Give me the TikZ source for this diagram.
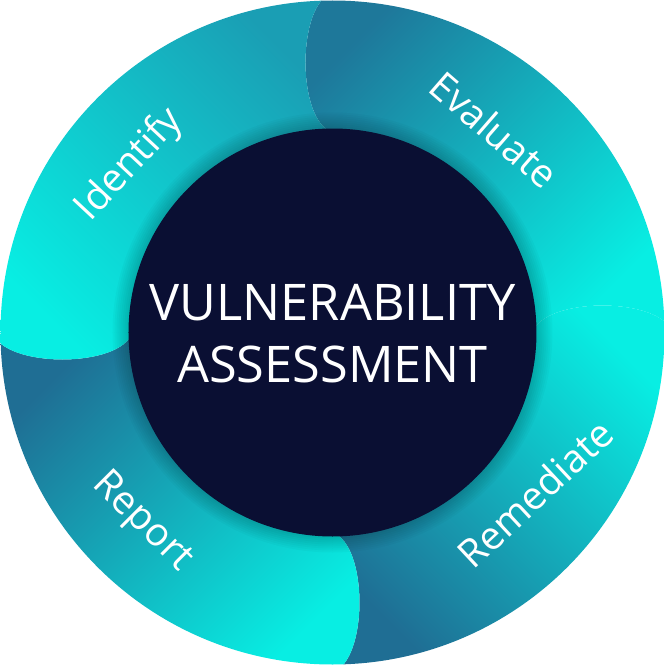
\documentclass[tikz,border=0pt]{standalone}
\usepackage{fontspec}
\setmainfont{Open Sans}

\definecolor{brightcyan}{HTML}{08EEE3}
\definecolor{midteal}{HTML}{1A9EB4}
\definecolor{deepteal}{HTML}{1F6E94}
\definecolor{navy}{HTML}{0A0F33}

\tikzset{
  seglabel/.style={text=white, inner sep=0pt, font=\fontsize{39}{39}\selectfont},
  title/.style={text=white, align=center, inner sep=0pt, font=\fontsize{50.5}{62}\selectfont},
}

% one quarter of the ring, rounded head at the start angle
\newcommand{\ringpart}[2]{%
  \shade[#2] ([rotate=#1]200,0) .. controls ([rotate=#1]212,36) and ([rotate=#1]328,36) .. ([rotate=#1]340,0)
    arc[start angle=#1, end angle=#1-90, radius=340]
    .. controls ([rotate=#1-90]328,36) and ([rotate=#1-90]212,36) .. ([rotate=#1-90]200,0)
    arc[start angle=#1-90, end angle=#1, radius=200] -- cycle;
}

\begin{document}
\begin{tikzpicture}[x=1pt, y=1pt]
    \useasboundingbox (-332.5,-332.5) rectangle (332.5,332.5);

    \begin{scope}
    \clip (0,0) circle (332);
    \ringpart{90}{left color=deepteal!80!midteal, middle color=midteal, right color=brightcyan, shading angle=45}
    \ringpart{0}{left color=deepteal, middle color=midteal, right color=brightcyan, shading angle=135}
    \ringpart{-90}{left color=deepteal, middle color=midteal, right color=brightcyan, shading angle=45}
    \ringpart{180}{left color=brightcyan, right color=midteal, shading angle=135}
    % soft shadow round the middle
    \foreach \r in {206,208,...,220}
        \fill[black, opacity=0.025] (0,0) circle (\r);
    \end{scope}

    \fill[navy] (0,0) circle (204);

    \node[title] (core) at (0,-1.5) {VULNERABILITY\\ASSESSMENT};

    \node[seglabel, rotate=47] (identify) at (-202.5,167.5) {Identify};
    \node[seglabel, rotate=-41] (evaluate) at (162,203) {Evaluate};
    \node[seglabel, rotate=43] (remediate) at (202.5,-161) {Remediate};
    \node[seglabel, rotate=-45] (report) at (-190.5,-189.5) {Report};
\end{tikzpicture}
\end{document}
